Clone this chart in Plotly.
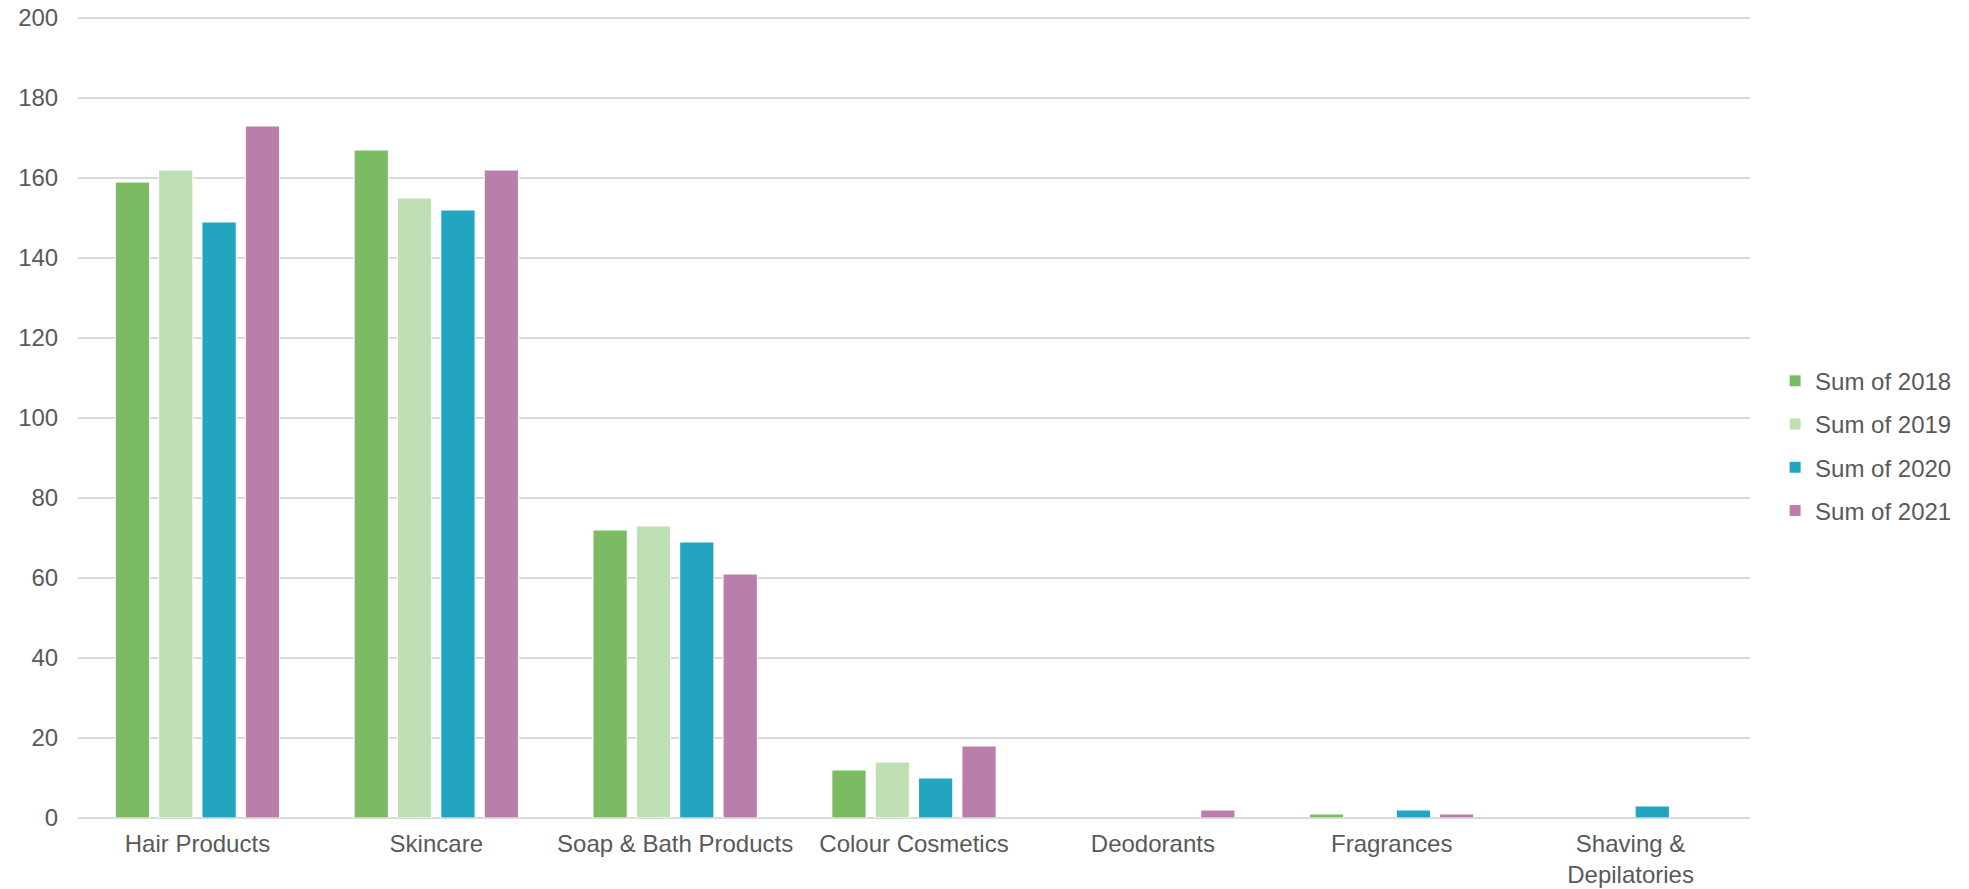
import plotly.graph_objects as go

categories = ["Hair Products", "Skincare", "Soap & Bath Products", "Colour Cosmetics",
              "Deodorants", "Fragrances", "Shaving &<br>Depilatories"]
series_names = ["Sum of 2018", "Sum of 2019", "Sum of 2020", "Sum of 2021"]
values_2018 = [159, 167, 72, 12, 0, 1, 0]
values_2019 = [162, 155, 73, 14, 0, 0, 0]
values_2020 = [149, 152, 69, 10, 0, 2, 3]
values_2021 = [173, 162, 61, 18, 2, 1, 0]
colors = ["#7BBC63", "#BFE0B4", "#23A4C0", "#BA7EAA"]
y_ticks = [0, 20, 40, 60, 80, 100, 120, 140, 160, 180, 200]

fig = go.Figure()
for name, vals, col in zip(series_names, [values_2018, values_2019, values_2020, values_2021], colors):
    fig.add_trace(go.Bar(x=categories, y=[v if v else None for v in vals], name=name,
                         legendgroup=name,
                         marker=dict(color=col, line=dict(color="white", width=1))))

font = dict(family="Liberation Sans, Arial, sans-serif", size=24, color="#595959")
fig.update_layout(
    width=1969, height=889,
    margin=dict(l=78, r=214, t=14, b=71),
    paper_bgcolor="white", plot_bgcolor="white",
    barmode="group", bargap=0.274, bargroupgap=0.21,
    font=font,
    showlegend=True,
    legend=dict(x=1.015, y=0.463, xanchor="left", yanchor="middle",
                font=font, itemwidth=30, traceorder="grouped", tracegroupgap=9),
    xaxis=dict(showgrid=False, ticks="outside", ticklen=4, tickcolor="rgba(0,0,0,0)",
               showline=False, tickfont=font, automargin=False),
    yaxis=dict(range=[0, 201], tickvals=y_ticks, showgrid=True, gridcolor="#D9D9D9",
               gridwidth=1.5, zeroline=True, zerolinecolor="#D9D9D9", zerolinewidth=1.5,
               ticks="outside", ticklen=14, tickcolor="rgba(0,0,0,0)", tickfont=font,
               showline=False, automargin=False),
)
fig.write_html("out.html")
